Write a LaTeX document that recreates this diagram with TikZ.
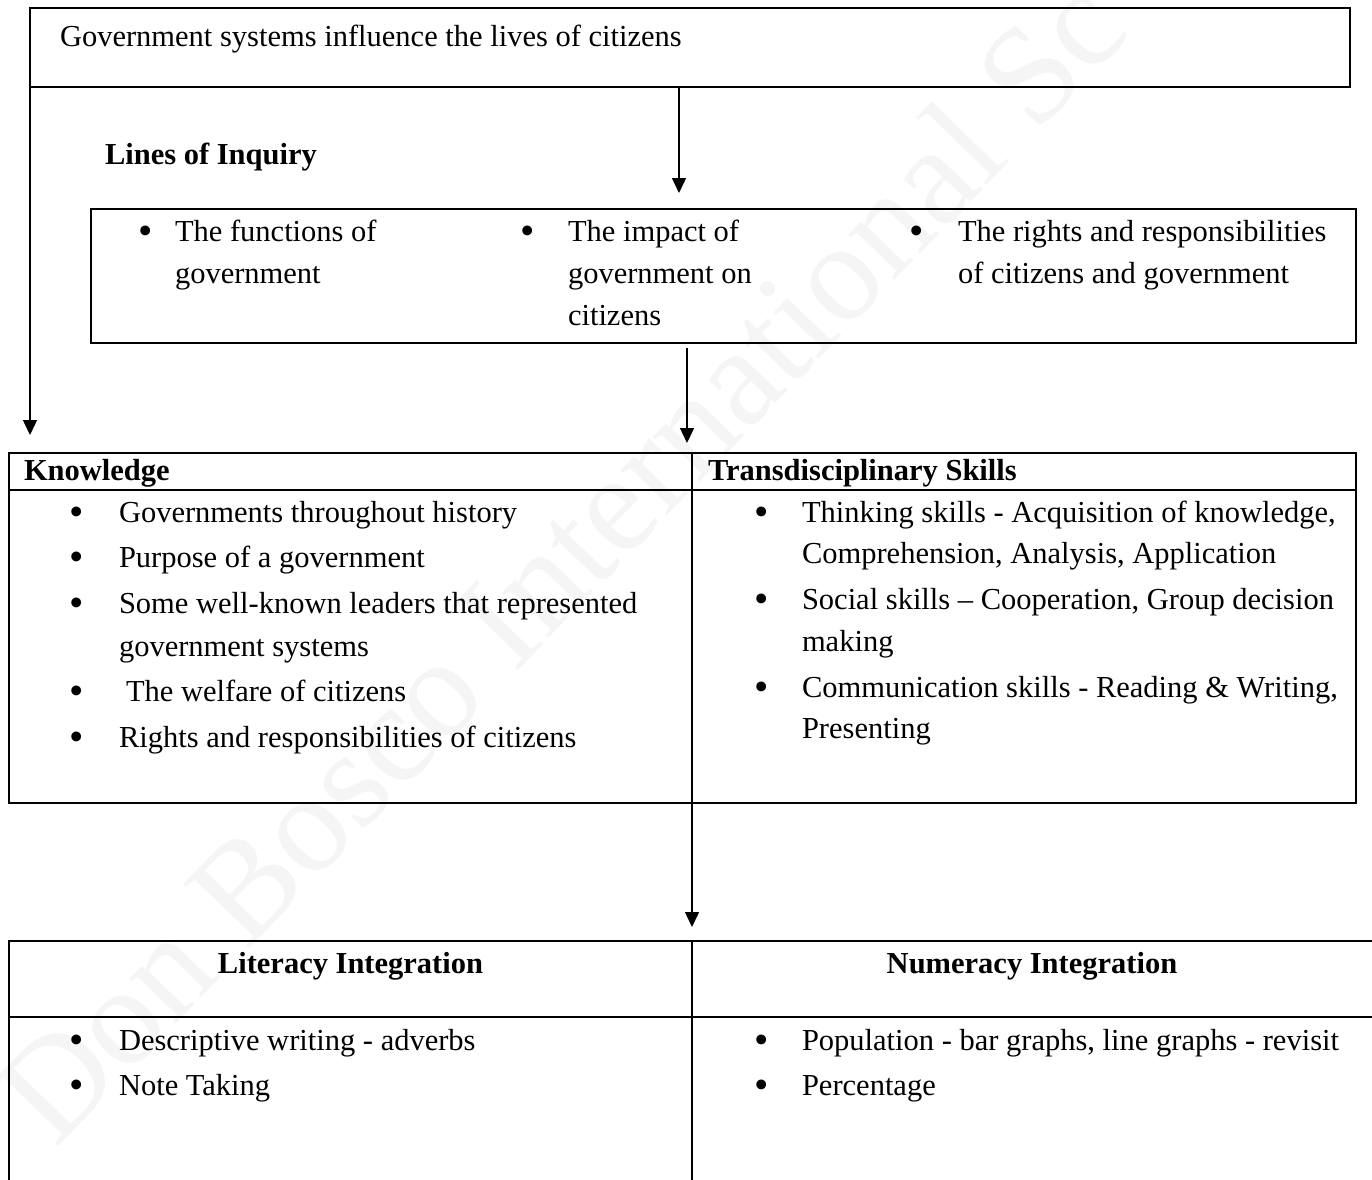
\documentclass[tikz,border=0pt]{standalone}
\usepackage{fontspec}
\setmainfont{Liberation Serif}
\usetikzlibrary{arrows.meta}
\newcommand\Tline[4]{\node[txt] (#1) at (#2,#3) {#4};}
\newcommand\Bul[3]{\node[bul] (#1) at (#2,#3) {\raisebox{-3.5pt}{\fontsize{41}{41}\selectfont\textbullet}};}
\begin{document}
\begin{tikzpicture}[x=1pt,y=-1pt,
  box/.style={draw=black, line width=1.8pt, inner sep=0pt, outer sep=0pt, anchor=north west},
  txt/.style={inner sep=0pt, outer sep=0pt, font=\fontsize{30.5}{36}\selectfont, anchor=base west},
  hdr/.style={txt, font=\fontsize{30.5}{36}\selectfont\bfseries},
  bul/.style={inner sep=0pt, outer sep=0pt, anchor=base},
  arr/.style={draw=black, line width=1.4pt, -{Triangle[length=15pt,width=14pt]}}]
\useasboundingbox (0,0) rectangle (1372,1179);
\fill[white] (0,0) rectangle (1372,1179);
% watermark
\begin{scope}
\clip (0,0) rectangle (1372,1179);
\node[anchor=base west, rotate=46, text=black!4, inner sep=0pt, font=\fontsize{140}{140}\selectfont] (wm) at (55,1150) {Don Bosco International Sc};
\end{scope}
% top box
\node[box, minimum width=1320pt, minimum height=79pt] (top) at (30,8) {};
\Tline{toptxt}{60}{46}{Government systems influence the lives of citizens}
\node[hdr] (loititle) at (105,164) {Lines of Inquiry};
% lines of inquiry box
\node[box, minimum width=1265pt, minimum height=134pt] (loi) at (91,209) {};
\Bul{b1}{146}{241}
\Tline{l1a}{175}{241}{The functions of}
\Tline{l1b}{175}{283}{government}
\Bul{b2}{528}{241}
\Tline{l2a}{568}{241}{The impact of}
\Tline{l2b}{568}{283}{government on}
\Tline{l2c}{568}{325}{citizens}
\Bul{b3}{917}{241}
\Tline{l3a}{958}{241}{The rights and responsibilities}
\Tline{l3b}{958}{283}{of citizens and government}
% table 1
\node[box, minimum width=683pt, minimum height=37pt] (kh) at (9,453) {};
\node[box, minimum width=683pt, minimum height=313pt] (kb) at (9,490) {};
\node[box, minimum width=664pt, minimum height=37pt] (th) at (692,453) {};
\node[box, minimum width=664pt, minimum height=313pt] (tb) at (692,490) {};
\node[hdr] (khtxt) at (24,480) {Knowledge};
\node[hdr] (thtxt) at (708,480) {Transdisciplinary Skills};
\Bul{k1}{77}{522}
\Tline{k1t}{119}{522}{Governments throughout history}
\Bul{k2}{77}{567}
\Tline{k2t}{119}{567}{Purpose of a government}
\Bul{k3}{77}{613}
\Tline{k3t}{119}{613}{Some well-known leaders that represented}
\Tline{k3u}{119}{656}{government systems}
\Bul{k4}{77}{701}
\Tline{k4t}{126}{701}{The welfare of citizens}
\Bul{k5}{77}{747}
\Tline{k5t}{119}{747}{Rights and responsibilities of citizens}
\Bul{s1}{762}{522}
\Tline{s1t}{802}{522}{Thinking skills - Acquisition of knowledge,}
\Tline{s1u}{802}{563}{Comprehension, Analysis, Application}
\Bul{s2}{762}{609}
\Tline{s2t}{802}{609}{Social skills – Cooperation, Group decision}
\Tline{s2u}{802}{651}{making}
\Bul{s3}{762}{697}
\Tline{s3t}{802}{697}{Communication skills - Reading \& Writing,}
\Tline{s3u}{802}{738}{Presenting}
% table 2
\node[box, minimum width=683pt, minimum height=76pt] (lh) at (9,941) {};
\node[box, minimum width=683pt, minimum height=200pt] (lb) at (9,1017) {};
\node[box, minimum width=690pt, minimum height=76pt] (nh) at (692,941) {};
\node[box, minimum width=690pt, minimum height=200pt] (nb) at (692,1017) {};
\node[hdr, anchor=base] (lhtxt) at (350.5,973) {Literacy Integration};
\node[hdr, anchor=base] (nhtxt) at (1032,973) {Numeracy Integration};
\Bul{d1}{77}{1050}
\Tline{d1t}{119}{1050}{Descriptive writing - adverbs}
\Bul{d2}{77}{1095}
\Tline{d2t}{119}{1095}{Note Taking}
\Bul{n1}{762}{1050}
\Tline{n1t}{802}{1050}{Population - bar graphs, line graphs - revisit}
\Bul{n2}{762}{1095}
\Tline{n2t}{802}{1095}{Percentage}
% connectors
\coordinate (xA) at (679,0);
\coordinate (xB) at (687,0);
\draw[arr, shorten >=16pt] (top.south -| xA) -- (loi.north -| xA);
\draw[arr, shorten >=18pt] (top.south west) -- (top.south west |- kh.north);
\draw[arr, shorten <=5pt, shorten >=10pt] (loi.south -| xB) -- (kh.north -| xB);
\draw[arr, shorten >=14pt] (kb.south east) -- (kb.south east |- lh.north);
\end{tikzpicture}
\end{document}
